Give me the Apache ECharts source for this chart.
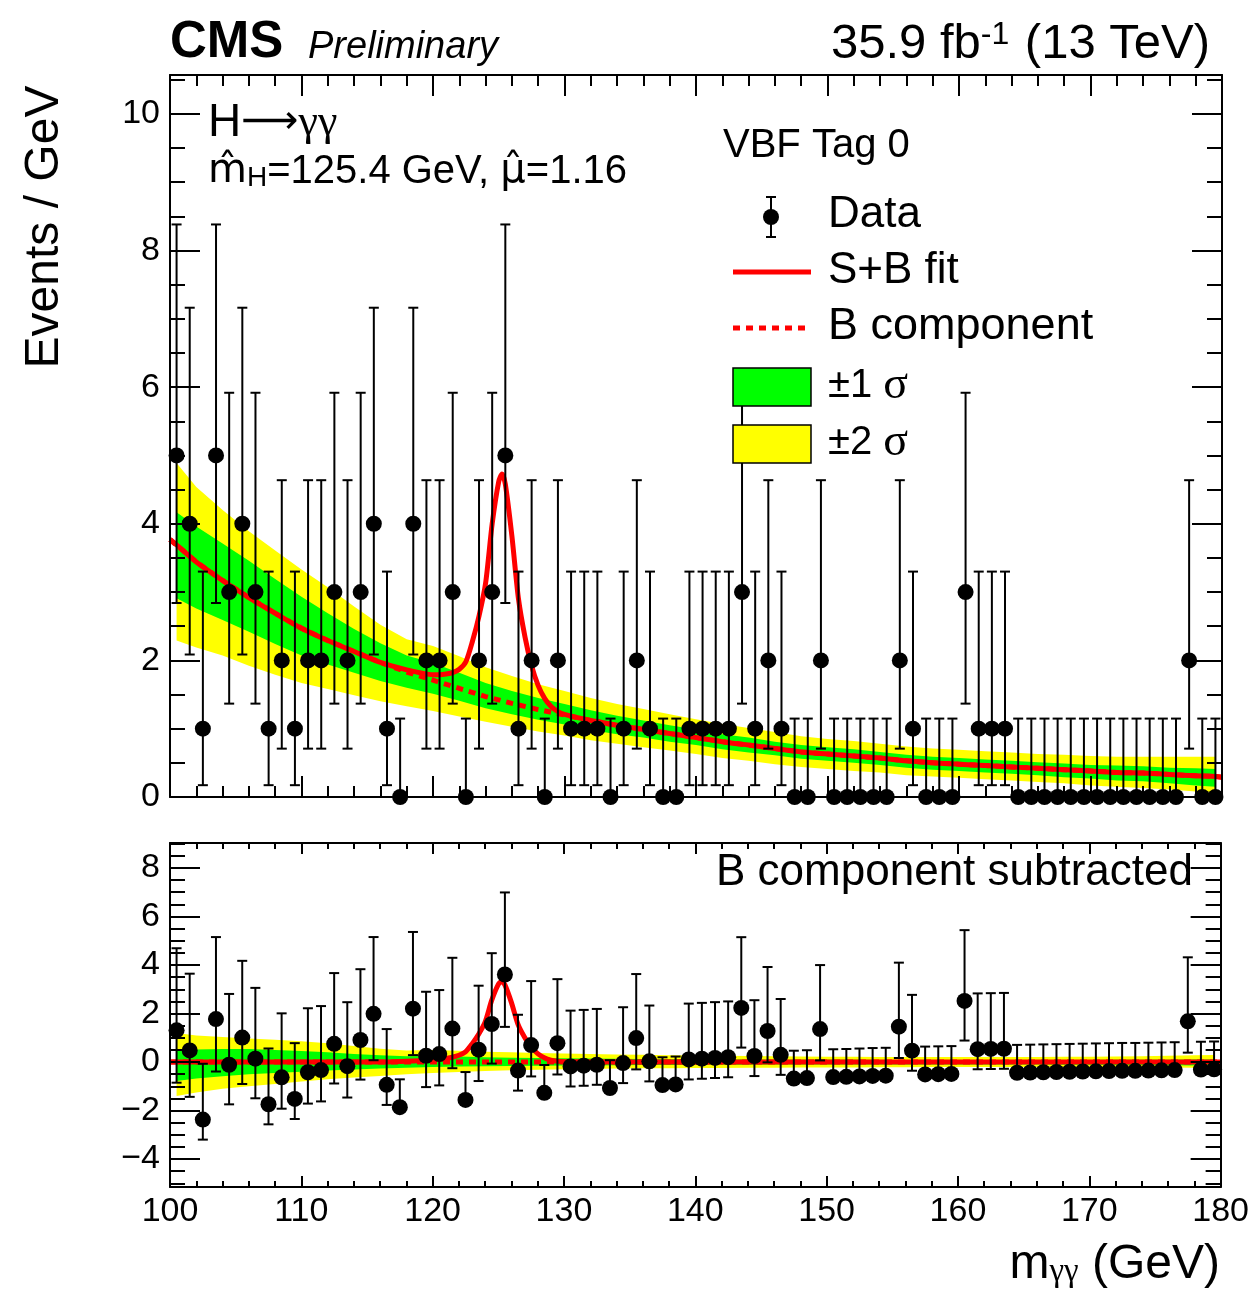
<!DOCTYPE html>
<html><head><meta charset="utf-8">
<script src="https://cdn.jsdelivr.net/npm/echarts@6/dist/echarts.min.js"></script>
<style>html,body{margin:0;padding:0;background:#fff}#c{width:1252px;height:1294px}</style>
</head><body><div id="c"></div>
<script>
// ---------------- data ----------------
const binCenters = [100.5,101.5,102.5,103.5,104.5,105.5,106.5,107.5,108.5,109.5,
  110.5,111.5,112.5,113.5,114.5,115.5,116.5,117.5,118.5,119.5,
  120.5,121.5,122.5,123.5,124.5,125.5,126.5,127.5,128.5,129.5,
  130.5,131.5,132.5,133.5,134.5,135.5,136.5,137.5,138.5,139.5,
  140.5,141.5,142.5,143.5,144.5,145.5,146.5,147.5,148.5,149.5,
  150.5,151.5,152.5,153.5,154.5,155.5,156.5,157.5,158.5,159.5,
  160.5,161.5,162.5,163.5,164.5,165.5,166.5,167.5,168.5,169.5,
  170.5,171.5,172.5,173.5,174.5,175.5,176.5,177.5,178.5,179.5];
const counts = [5,4,1,5,3,4,3,1,2,1,
  2,2,3,2,3,4,1,0,4,2,
  2,3,0,2,3,5,1,2,0,2,
  1,1,1,0,1,2,1,0,0,1,
  1,1,1,3,1,2,1,0,0,2,
  0,0,0,0,0,2,1,0,0,0,
  3,1,1,1,0,0,0,0,0,0,
  0,0,0,0,0,0,0,2,0,0];
const residuals = [1.31,0.48,-2.37,1.77,-0.11,1.01,0.14,-1.74,-0.63,-1.52,
  -0.42,-0.33,0.75,-0.17,0.91,1.99,-0.94,-1.86,2.20,0.26,
  0.33,1.38,-1.56,0.51,1.57,3.61,-0.35,0.70,-1.27,0.78,
  -0.18,-0.15,-0.11,-1.07,-0.04,0.99,0.03,-0.95,-0.92,0.11,
  0.14,0.17,0.20,2.23,0.25,1.28,0.30,-0.68,-0.66,1.36,
  -0.62,-0.61,-0.59,-0.57,-0.56,1.46,0.47,-0.51,-0.50,-0.49,
  2.52,0.53,0.54,0.55,-0.44,-0.43,-0.42,-0.41,-0.40,-0.39,
  -0.38,-0.37,-0.36,-0.36,-0.35,-0.34,-0.33,1.68,-0.31,-0.30];
// Poisson interval half-widths by count (as drawn)
const errLowByCount  = [0, 0.827, 1.292, 1.633, 1.914, 2.160];
const errHighByCount = [1.148, 2.300, 2.638, 2.918, 3.163, 3.382];

// background (B component) curve
const bkgX = [100,100.5,102,104,106,108,110,112,114,116,118,120,122,124,126,128,130,132,134,136,138,140,
  142,144,146,148,150,152,154,156,158,160,162,164,166,168,170,172,174,176,178,179.5,180];
const bkgY = [3.77,3.69,3.44,3.17,2.92,2.69,2.47,2.29,2.13,1.97,1.83,1.71,1.59,1.47,1.37,1.28,1.20,1.12,1.05,0.99,0.93,0.87,
  0.81,0.76,0.71,0.66,0.63,0.60,0.57,0.53,0.50,0.48,0.46,0.44,0.42,0.40,0.38,0.36,0.35,0.33,0.31,0.30,0.29];

// S+B fit around the peak, and the signal alone (lower panel)
const peakX = [118,119,120,120.5,121,121.5,122,122.5,123,123.5,124,124.5,125,125.25,125.5,126,126.5,127,127.5,128,128.5,129,129.5,130];
const sbPeakY = [1.86,1.82,1.79,1.79,1.80,1.82,1.87,1.98,2.28,2.65,3.13,4.00,4.62,4.73,4.58,3.82,2.90,2.34,1.92,1.63,1.44,1.32,1.25,1.21];
const sigPeakY = [0.03,0.05,0.08,0.11,0.15,0.20,0.28,0.42,0.75,1.15,1.66,2.55,3.20,3.33,3.18,2.45,1.55,1.02,0.62,0.35,0.18,0.08,0.03,0.01];

// uncertainty bands: offsets from the B component at bandX
const bandX = [100.5,102,104,106,108,110,112,114,116,118,120,122,124,126,128,130,132,134,136,138,140,
  142,144,146,148,150,152,154,156,158,160,162,164,166,168,170,172,174,176,178,179.5];
const yelUp = [1.20,1.10,1.03,0.97,0.92,0.86,0.78,0.66,0.55,0.48,0.50,0.47,0.43,0.40,0.37,0.35,0.33,0.31,0.30,0.28,0.27,
  0.26,0.25,0.24,0.23,0.22,0.22,0.21,0.21,0.21,0.21,0.21,0.21,0.21,0.22,0.22,0.23,0.24,0.26,0.28,0.29];
const yelDn = [1.40,1.25,1.10,1.00,0.90,0.80,0.71,0.64,0.57,0.50,0.45,0.41,0.37,0.34,0.32,0.30,0.29,0.27,0.26,0.25,0.24,
  0.24,0.23,0.23,0.22,0.22,0.22,0.21,0.21,0.20,0.20,0.20,0.20,0.20,0.20,0.21,0.21,0.22,0.22,0.23,0.24];
const grnUp = [0.48,0.52,0.54,0.54,0.50,0.46,0.40,0.33,0.28,0.24,0.25,0.23,0.20,0.18,0.17,0.16,0.15,0.14,0.13,0.12,0.12,
  0.11,0.11,0.10,0.10,0.10,0.10,0.09,0.09,0.09,0.09,0.09,0.09,0.09,0.09,0.09,0.10,0.10,0.10,0.11,0.11];
const grnDn = [0.78,0.68,0.58,0.50,0.45,0.40,0.35,0.31,0.27,0.23,0.20,0.18,0.17,0.16,0.15,0.14,0.14,0.13,0.12,0.12,0.11,
  0.11,0.11,0.10,0.10,0.10,0.10,0.10,0.10,0.10,0.10,0.10,0.10,0.10,0.11,0.11,0.12,0.12,0.13,0.14,0.15];

// ---------------- build ----------------
const FONT = '"Liberation Sans", Arial, Helvetica, sans-serif';
const SERIF = '"Liberation Serif", "DejaVu Serif", serif';
const RED = '#ff0000', GREEN = '#00ff00', YELLOW = '#ffff00';

const bkgPairs = bkgX.map((x, i) => [x, bkgY[i]]);
const bandCenterTop = bandX.map(x => bkgY[bkgX.indexOf(x)]);
const bandCenterBot = bandX.map(() => 0);
const sbPairs = bkgPairs.filter(p => p[0] < peakX[0] || p[0] > peakX[peakX.length - 1])
  .concat(peakX.map((x, i) => [x, sbPeakY[i]])).sort((a, b) => a[0] - b[0]);
const sigPairs = [[100, 0], [116, 0]].concat(peakX.map((x, i) => [x, sigPeakY[i]])).concat([[132, 0], [180, 0]]);
const zeroPairs = [[100, 0], [180, 0]];

const topPts = binCenters.map((x, i) => [x, counts[i]]);
const botPts = binCenters.map((x, i) => [x, residuals[i]]);
const topErr = binCenters.map((x, i) => [x, counts[i] - errLowByCount[counts[i]], counts[i] + errHighByCount[counts[i]]]);
const botErr = binCenters.map((x, i) => [x, residuals[i] - errLowByCount[counts[i]], residuals[i] + errHighByCount[counts[i]]]);

function evenFmt(v) {
  if (Math.abs(v / 2 - Math.round(v / 2)) > 1e-6) return '';
  const r = Math.round(v);
  return r < 0 ? '\u2212' + Math.abs(r) : String(r);
}

function bandSeries(ai, center, up, dn, color, z) {
  return {
    type: 'custom', xAxisIndex: ai, yAxisIndex: ai, data: [[bandX[0], center[0]]], z: z, silent: true, clip: false,
    renderItem: function (params, api) {
      const pts = [];
      for (let i = 0; i < bandX.length; i++) pts.push(api.coord([bandX[i], center[i] + up[i]]));
      for (let i = bandX.length - 1; i >= 0; i--) pts.push(api.coord([bandX[i], center[i] - dn[i]]));
      return { type: 'polygon', shape: { points: pts }, style: { fill: color, stroke: null } };
    }
  };
}
function errSeries(ai, data) {
  return {
    type: 'custom', xAxisIndex: ai, yAxisIndex: ai, data: data, z: 6, silent: true, clip: false,
    renderItem: function (params, api) {
      const x = api.value(0), lo = api.value(1), hi = api.value(2);
      const a = api.coord([x, lo]), b = api.coord([x, hi]);
      const cw = 5, st = { stroke: '#000', lineWidth: 2 };
      return { type: 'group', children: [
        { type: 'line', shape: { x1: a[0], y1: a[1], x2: b[0], y2: b[1] }, style: st },
        { type: 'line', shape: { x1: a[0] - cw, y1: a[1], x2: a[0] + cw, y2: a[1] }, style: st },
        { type: 'line', shape: { x1: b[0] - cw, y1: b[1], x2: b[0] + cw, y2: b[1] }, style: st }
      ] };
    }
  };
}
function lineSeries(ai, data, dashed, z, smooth) {
  return {
    type: 'line', xAxisIndex: ai, yAxisIndex: ai, data: data, showSymbol: false, symbol: 'none',
    smooth: smooth, z: z, silent: true, animation: false,
    lineStyle: { color: RED, width: 5, type: dashed ? [7, 6] : 'solid', opacity: 1, cap: 'butt', join: 'round' }
  };
}
function ptSeries(ai, data) {
  return { type: 'scatter', xAxisIndex: ai, yAxisIndex: ai, data: data, symbol: 'circle', symbolSize: 16,
    itemStyle: { color: '#000', opacity: 1 }, z: 7, clip: false, silent: true };
}

const axLine = { show: true, onZero: false, lineStyle: { color: '#000', width: 2 } };
function xAx(grid, pos, labels, major, minor) {
  return { type: 'value', gridIndex: grid, position: pos, min: 100, max: 180, interval: 10, z: 20,
    axisLine: axLine, splitLine: { show: false },
    axisTick: { show: true, inside: true, length: major, lineStyle: { color: '#000', width: 2 } },
    minorTick: { show: true, splitNumber: 5, length: minor, lineStyle: { color: '#000', width: 2 } },
    axisLabel: { show: labels, color: '#000', fontFamily: FONT, fontSize: 34, margin: 8 } };
}
function yAx(grid, pos, labels, mn, mx, split) {
  return { type: 'value', gridIndex: grid, position: pos, min: mn, max: mx, splitNumber: split, z: 20,
    axisLine: axLine, splitLine: { show: false },
    axisTick: { show: true, inside: true, length: 30, lineStyle: { color: '#000', width: 2 } },
    minorTick: { show: true, splitNumber: 4, length: 15, lineStyle: { color: '#000', width: 2 } },
    axisLabel: { show: labels, color: '#000', fontFamily: FONT, fontSize: 34, margin: 10, formatter: evenFmt,
      showMinLabel: true, showMaxLabel: true } };
}

const T = (x, y, text, font, align, extra) => Object.assign({ type: 'text', z: 100, silent: true,
  style: Object.assign({ x: x, y: y, text: text, font: font, fill: '#000', align: align || 'left', verticalAlign: 'middle',
    textAlign: align || 'left', textVerticalAlign: 'middle' }, extra || {}) });

const graphics = [
  T(170, 43, 'CMS', 'bold 51px ' + FONT),
  T(308, 47, 'Preliminary', 'italic 38px ' + FONT),
  T(1210, 44, '35.9 fb{sup|-1} (13 TeV)', '49px ' + FONT, 'right', { rich: { sup: { font: '32px ' + FONT, fill: '#000', verticalAlign: 'top', padding: [0, 2, 8, 0] } } }),
  { type: 'text', z: 100, silent: true, x: 45, y: 227, rotation: Math.PI / 2,
    style: { x: 0, y: 0, text: 'Events / GeV', font: '48px ' + FONT, fill: '#000', align: 'center', verticalAlign: 'middle', textAlign: 'center', textVerticalAlign: 'middle' } },
  T(1220, 1265, 'm{sub|\u03b3\u03b3} (GeV)', '48px ' + FONT, 'right', { rich: { sub: { font: '33px ' + SERIF, fill: '#000', verticalAlign: 'bottom', padding: [8, 0, 0, 0] } } }),
  T(208, 123, 'H{ar|\u27f6}{g|\u03b3\u03b3}', '46px ' + FONT, 'left', { rich: { ar: { font: '40px "DejaVu Sans"', fill: '#000' }, g: { font: '44px ' + SERIF, fill: '#000' } } }),
  T(208, 172, '{m|m\u0302}{sub|H}=125.4 GeV, {m|\u03bc\u0302}=1.16', '40px ' + FONT, 'left', { rich: {
      sub: { font: '28px ' + FONT, fill: '#000', verticalAlign: 'bottom', padding: [6, 0, 0, 0] },
      m: { font: '40px "DejaVu Sans"', fill: '#000' } } }),
  T(723, 146, 'VBF Tag 0', '40px ' + FONT),
  // legend
  { type: 'group', z: 100, silent: true, children: [
    { type: 'line', z: 100, shape: { x1: 771, y1: 197, x2: 771, y2: 237 }, style: { stroke: '#000', lineWidth: 2 } },
    { type: 'line', z: 100, shape: { x1: 766, y1: 197, x2: 776, y2: 197 }, style: { stroke: '#000', lineWidth: 2 } },
    { type: 'line', z: 100, shape: { x1: 766, y1: 237, x2: 776, y2: 237 }, style: { stroke: '#000', lineWidth: 2 } },
    { type: 'circle', z: 100, shape: { cx: 771, cy: 217, r: 8 }, style: { fill: '#000' } },
    { type: 'line', z: 100, shape: { x1: 733, y1: 272, x2: 811, y2: 272 }, style: { stroke: RED, lineWidth: 5 } },
    { type: 'line', z: 100, shape: { x1: 733, y1: 328, x2: 811, y2: 328 }, style: { stroke: RED, lineWidth: 5, lineDash: [7, 6] } },
    { type: 'rect', z: 100, shape: { x: 733, y: 368, width: 78, height: 38 }, style: { fill: GREEN, stroke: '#000', lineWidth: 1.5 } },
    { type: 'rect', z: 100, shape: { x: 733, y: 425, width: 78, height: 38 }, style: { fill: YELLOW, stroke: '#000', lineWidth: 1.5 } }
  ] },
  T(828, 215, 'Data', '44px ' + FONT),
  T(828, 271, 'S+B fit', '44px ' + FONT),
  T(828, 327, 'B component', '45px ' + FONT),
  T(828, 386, '\u00b11 {s|\u03c3}', '40px ' + FONT, 'left', { rich: { s: { font: '46px ' + SERIF, fill: '#000' } } }),
  T(828, 443, '\u00b12 {s|\u03c3}', '40px ' + FONT, 'left', { rich: { s: { font: '46px ' + SERIF, fill: '#000' } } }),
  T(1193, 873, 'B component subtracted', '44px ' + FONT, 'right')
];

const option = {
  animation: false,
  backgroundColor: '#fff',
  grid: [
    { left: 170, top: 75, width: 1052, height: 722, containLabel: false },
    { left: 170, top: 843, width: 1052, height: 344, containLabel: false }
  ],
  xAxis: [
    xAx(0, 'bottom', false, 21, 11),
    xAx(1, 'bottom', true, 11, 6),
    xAx(0, 'top', false, 21, 11),
    xAx(1, 'top', false, 11, 6)
  ],
  yAxis: [
    yAx(0, 'left', true, 0, 10.57, 5),
    yAx(1, 'left', true, -5.15, 9.03, 7),
    yAx(0, 'right', false, 0, 10.57, 5),
    yAx(1, 'right', false, -5.15, 9.03, 7)
  ],
  series: [
    bandSeries(0, bandCenterTop, yelUp, yelDn, YELLOW, 1),
    bandSeries(0, bandCenterTop, grnUp, grnDn, GREEN, 2),
    lineSeries(0, bkgPairs, true, 3, false),
    lineSeries(0, sbPairs, false, 4, 0.25),
    errSeries(0, topErr),
    ptSeries(0, topPts),
    bandSeries(1, bandCenterBot, yelUp, yelDn, YELLOW, 1),
    bandSeries(1, bandCenterBot, grnUp, grnDn, GREEN, 2),
    lineSeries(1, zeroPairs, true, 3, false),
    lineSeries(1, sigPairs, false, 4, 0.25),
    errSeries(1, botErr),
    ptSeries(1, botPts)
  ],
  graphic: graphics
};
const chart = echarts.init(document.getElementById('c'), null, { renderer: 'canvas' });
chart.setOption(option);
</script></body></html>
